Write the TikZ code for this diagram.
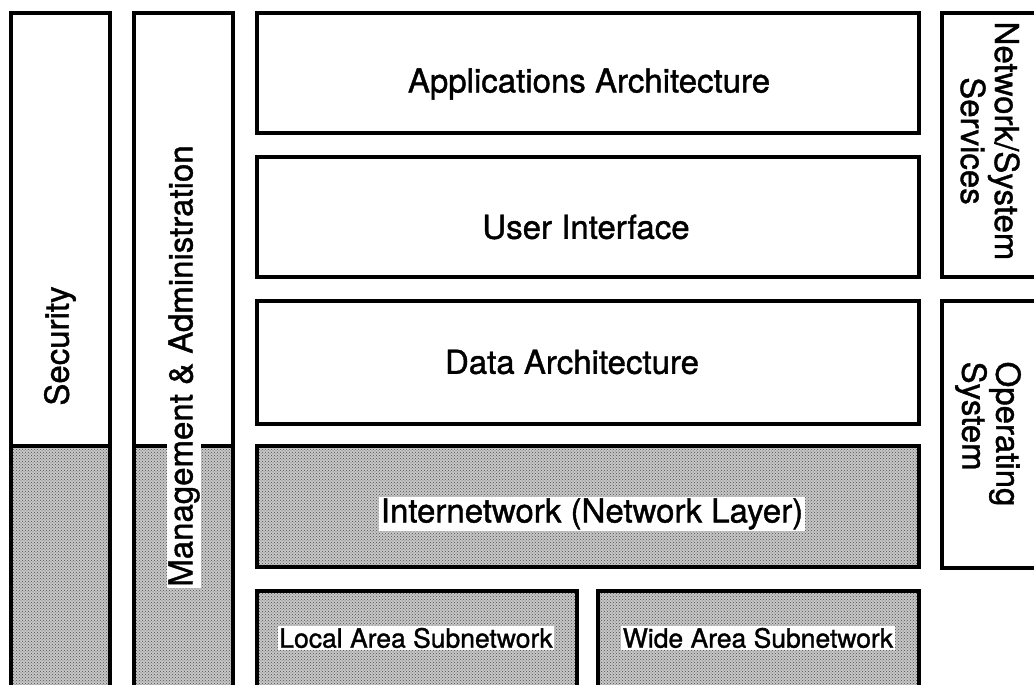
\documentclass[tikz,border=0pt]{standalone}
\usepackage{fontspec}
\setmainfont{TeX Gyre Heros}[FakeBold=1.2]
\usetikzlibrary{patterns}
\begin{document}
\begin{tikzpicture}[x=1pt,y=-1pt,
  box/.style={draw=black, line width=3.5pt},
  plain/.style={box, fill=white},
  shaded/.style={box, preaction={fill=black!22}, pattern=crosshatch dots, pattern color=black!70},
  big/.style={font=\fontsize{33}{34}\selectfont, inner sep=1.5pt},
  small/.style={font=\fontsize{26.5}{28}\selectfont, inner sep=1.5pt},
  tag/.style={fill=white}]
  \useasboundingbox (0,0) rectangle (1034,685);
  \fill[white] (0,0) rectangle (1034,685);
  \clip (0,0) rectangle (1034,685);

  % vertical columns on the left: white above, shaded below
  \draw[plain]  (11,13)  rectangle (110,446);
  \draw[shaded] (11,446) rectangle (110,720);
  \draw[plain]  (134,13)  rectangle (233,446);
  \draw[shaded] (134,446) rectangle (233,720);

  % layered stack in the middle
  \draw[plain]  (257,13)  rectangle (919,133);
  \draw[plain]  (257,157) rectangle (919,277);
  \draw[plain]  (257,301) rectangle (919,424);
  \draw[shaded] (257,446) rectangle (919,567);
  \draw[shaded] (257,591) rectangle (577,720);
  \draw[shaded] (598,591) rectangle (919,720);

  % services on the right
  \draw[plain] (942,13)  rectangle (1060,277);
  \draw[plain] (942,301) rectangle (1060,568);

  % labels
  \node[big, rotate=90] (sec) at (60,346) {Security};
  \node[big, tag, rotate=90] (mgmt) at (184,366) {Management \& Administration};
  \node[big] (apps) at (589,84) {Applications Architecture};
  \node[big] (ui) at (586,227) {User Interface};
  \node[big] (data) at (572,362) {Data Architecture};
  \node[big, tag] (inet) at (592,514) {Internetwork (Network Layer)};
  \node[small, tag] (lan) at (416,638) {Local Area Subnetwork};
  \node[small, tag] (wan) at (758,638) {Wide Area Subnetwork};
  \node[big, rotate=-90, align=center] (nss) at (990,141) {Network/System\\Services};
  \node[big, rotate=-90, align=left] (os) at (988,434) {Operating\\System};
\end{tikzpicture}
\end{document}
